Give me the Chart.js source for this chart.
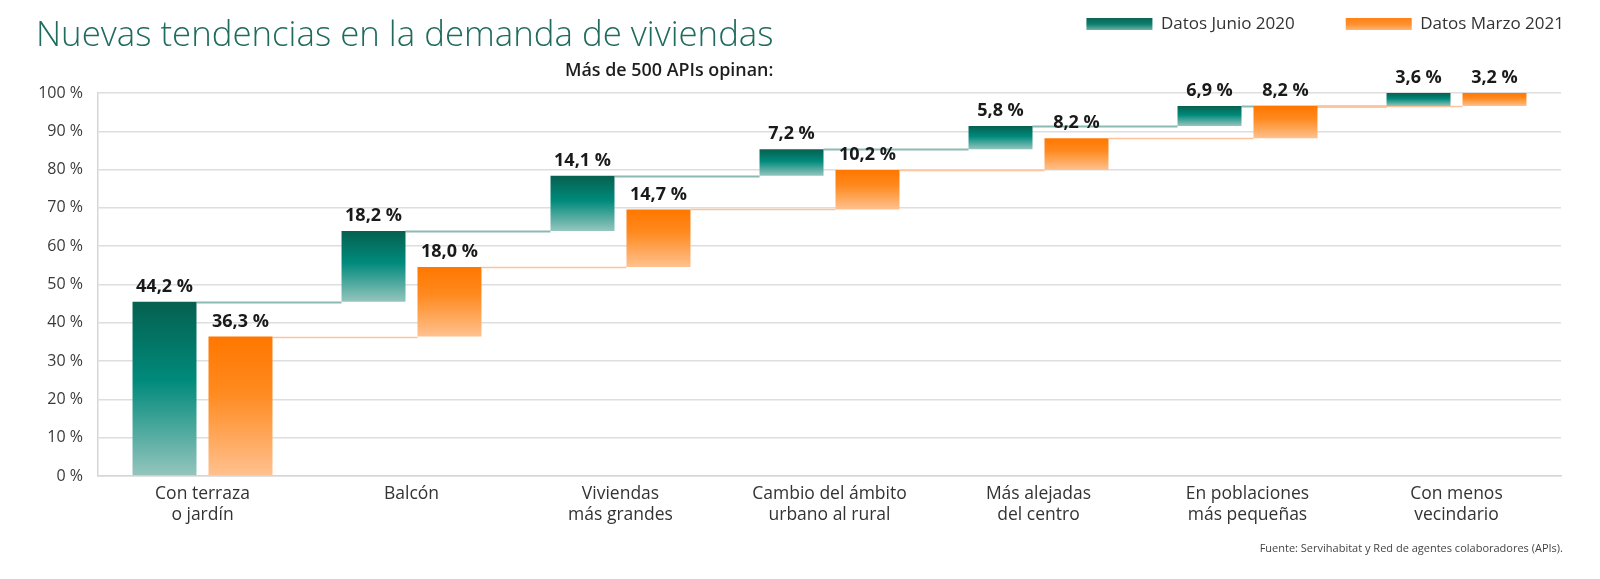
<!DOCTYPE html>
<html><head><meta charset="utf-8">
<script src="https://cdn.jsdelivr.net/npm/chart.js@4.4.1/dist/chart.umd.min.js"></script>
<style>
html,body{margin:0;padding:0;background:#fff;}
#wrap{position:relative;width:1600px;height:579px;overflow:hidden;}
#wrap canvas{position:absolute;left:0;top:0;}
.t{position:absolute;white-space:nowrap;font-family:"Open Sans",sans-serif;}
#title{left:36px;top:12px;font-size:34.8px;font-weight:300;color:#1f6b5e;line-height:42px;}
#sub{left:565px;top:58px;font-size:17.9px;font-weight:600;color:#1e1e1e;line-height:22px;}
#src{right:37px;top:540px;font-size:11px;color:#444;line-height:15px;}
</style></head>
<body>
<div id="wrap">
<canvas id="c" width="1600" height="579" style="width:1600px;height:579px"></canvas>
<div class="t" id="title">Nuevas tendencias en la demanda de viviendas</div>
<div class="t" id="sub">Más de 500 APIs opinan:</div>
<div class="t" id="src">Fuente: Servihabitat y Red de agentes colaboradores (APIs).</div>
</div>
<script>
const categories = [['Con terraza','o jardín'], ['Balcón'], ['Viviendas','más grandes'], ['Cambio del ámbito','urbano al rural'], ['Más alejadas','del centro'], ['En poblaciones','más pequeñas'], ['Con menos','vecindario']];
const seriesNames = ['Datos Junio 2020', 'Datos Marzo 2021'];
// values printed above the bars
const junio2020Values = [44.2, 18.2, 14.1, 7.2, 5.8, 6.9, 3.6];
const marzo2021Values = [36.3, 18.0, 14.7, 10.2, 8.2, 8.2, 3.2];
// step levels (bar bottoms / tops) as drawn in the picture
const junio2020Levels = [0, 45.5, 64.0, 78.4, 85.3, 91.4, 96.6, 100];
const marzo2021Levels = [0, 36.4, 54.6, 69.6, 79.9, 88.2, 96.6, 100];
const yTickMin = 0, yTickMax = 100, yTickStep = 10;

const FONT = '"Open Sans", sans-serif';
const toRanges = lv => lv.slice(0, -1).map((v, i) => [v, lv[i + 1]]);
const fmt = v => v.toFixed(1).replace('.', ',') + ' %';

function barGradient(stops, solid) {
  return (c) => {
    const chart = c.chart;
    if (c.type !== 'data' || !chart.chartArea || !Array.isArray(c.raw)) return solid;
    const ys = chart.scales.y;
    const top = ys.getPixelForValue(c.raw[1]);
    const bot = ys.getPixelForValue(c.raw[0]);
    if (!isFinite(top) || !isFinite(bot) || top === bot) return solid;
    const g = chart.ctx.createLinearGradient(0, top, 0, bot);
    stops.forEach(s => g.addColorStop(s[0], s[1]));
    return g;
  };
}
const greenStops = [[0, '#06604f'], [0.45, '#008a7b'], [1, '#95c5be']];
const orangeStops = [[0, '#ff7700'], [0.4, '#ff8a1f'], [1, '#ffc18f']];

const connectors = {
  id: 'connectors',
  beforeDatasetsDraw(chart) {
    const ctx = chart.ctx, ys = chart.scales.y;
    chart.data.datasets.forEach((ds, di) => {
      const meta = chart.getDatasetMeta(di);
      ctx.save();
      ctx.strokeStyle = ds.connectorColor;
      ctx.lineWidth = ds.connectorWidth;
      for (let i = 0; i < meta.data.length - 1; i++) {
        const a = meta.data[i], b = meta.data[i + 1];
        const py = Math.round(ys.getPixelForValue(ds.data[i][1])) + 0.5;
        ctx.beginPath();
        ctx.moveTo(a.x + a.width / 2, py);
        ctx.lineTo(b.x - b.width / 2, py);
        ctx.stroke();
      }
      ctx.restore();
    });
  }
};

const valueLabels = {
  id: 'valueLabels',
  afterDatasetsDraw(chart) {
    const ctx = chart.ctx;
    chart.data.datasets.forEach((ds, di) => {
      const meta = chart.getDatasetMeta(di);
      ctx.save();
      ctx.font = '700 18px ' + FONT;
      ctx.fillStyle = '#1a1a1a';
      ctx.textAlign = 'center';
      ctx.textBaseline = 'middle';
      meta.data.forEach((el, i) => {
        ctx.fillText(fmt(ds.printed[i]), el.x, el.y - 15);
      });
      ctx.restore();
    });
  }
};

const legendPlace = {
  id: 'legendPlace',
  afterLayout(chart) {
    const lg = chart.legend;
    if (!lg) return;
    const pad = lg.options.labels.padding;
    const dy = (15.5 - pad) - lg.top;
    lg.top += dy; lg.bottom += dy;
    const dx = (1564 + pad) - lg.right;
    lg.left += dx; lg.right += dx;
  }
};

new Chart(document.getElementById('c'), {
  type: 'bar',
  data: {
    labels: categories,
    datasets: [
      { label: seriesNames[0], data: toRanges(junio2020Levels), printed: junio2020Values,
        backgroundColor: barGradient(greenStops, '#0b7566'), borderWidth: 0,
        categoryPercentage: 0.727, barPercentage: 0.842,
        connectorColor: '#8bbab3', connectorWidth: 2 },
      { label: seriesNames[1], data: toRanges(marzo2021Levels), printed: marzo2021Values,
        backgroundColor: barGradient(orangeStops, '#ff8a2a'), borderWidth: 0,
        categoryPercentage: 0.727, barPercentage: 0.842,
        connectorColor: '#ffc39a', connectorWidth: 1.5 }
    ]
  },
  options: {
    responsive: false,
    animation: false,
    events: [],
    layout: { padding: { left: 0, right: 39, top: 0, bottom: 0 } },
    plugins: {
      tooltip: { enabled: false },
      legend: {
        position: 'top', align: 'end',
        labels: {
          boxWidth: 66, boxHeight: 12, padding: 51,
          font: { family: FONT, size: 17 }, color: '#333',
          generateLabels(chart) {
            const ctx = chart.ctx;
            const mk = (stops) => {
              const g = ctx.createLinearGradient(0, 18, 0, 30);
              stops.forEach(s => g.addColorStop(s[0], s[1]));
              return g;
            };
            return [
              { text: seriesNames[0], fillStyle: mk([[0,'#0a6455'],[0.5,'#0b7d6e'],[1,'#6fb0a6']]), strokeStyle: 'rgba(0,0,0,0)', lineWidth: 0, datasetIndex: 0, fontColor: '#333' },
              { text: seriesNames[1], fillStyle: mk([[0,'#ff8214'],[0.5,'#ff8f2e'],[1,'#ffb574']]), strokeStyle: 'rgba(0,0,0,0)', lineWidth: 0, datasetIndex: 1, fontColor: '#333' }
            ];
          }
        }
      }
    },
    scales: {
      x: {
        grid: { display: false, drawTicks: false },
        border: { display: true, color: '#d6d6d6', width: 1.5 },
        ticks: { font: { family: FONT, size: 17.5, lineHeight: 1.166 }, color: '#333', padding: 8, maxRotation: 0, autoSkip: false },
        afterFit(s) { s.height = 103; s.paddingLeft = 0; s.paddingRight = 0; }
      },
      y: {
        min: yTickMin, max: yTickMax,
        grid: { color: '#dedede', lineWidth: 1.5, drawTicks: false },
        border: { display: true, color: '#d6d6d6', width: 1.5 },
        ticks: { stepSize: yTickStep, font: { family: FONT, size: 16 }, color: '#3a3a3a', padding: 15,
          callback: v => v + ' %' },
        afterFit(s) { s.width = 98; s.paddingTop = 93; s.paddingBottom = 0; }
      }
    }
  },
  plugins: [connectors, valueLabels, legendPlace]
});
</script>
</body></html>
